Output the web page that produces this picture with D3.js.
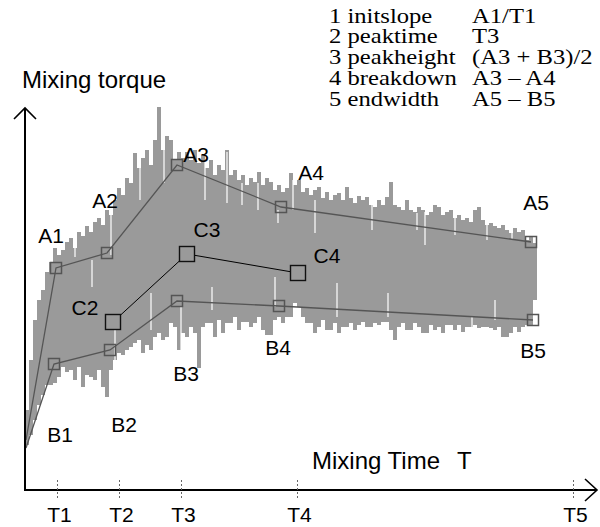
<!DOCTYPE html>
<html>
<head>
<meta charset="utf-8">
<script src="https://cdn.jsdelivr.net/npm/d3@7"></script>
<style>
  body { margin: 0; background: #fff; }
  svg { display: block; }
  .sans { font-family: "Liberation Sans", Arial, Helvetica, sans-serif; fill: #000; }
  .serif { font-family: "Liberation Serif", "Times New Roman", serif; fill: #000; }
</style>
</head>
<body>
<div id="chart"></div>
<script>
// ------------ data (time and torque in chart units)
var sampleTimes = d3.range(2, 511, 4); // one sample every 4 time units

var torqueHigh = [
  80,130,170,190,200,218,228,242,235,240,248,252,242,258,254,264,
  258,268,272,265,280,275,290,302,295,312,307,337,322,332,340,325,
  350,383,340,354,350,330,338,332,338,330,340,327,335,322,330,315,
  325,320,340,315,320,310,315,305,312,308,318,305,312,308,300,305,
  298,302,317,305,310,298,302,295,300,303,292,298,290,295,297,290,
  303,292,287,294,290,293,285,283,290,285,293,308,285,283,280,290,
  280,278,283,280,275,278,285,283,275,278,280,272,275,270,272,268,
  280,283,270,265,267,264,262,265,260,257,262,258,260,250,253,247
];
var torqueLow = [
  45,55,70,85,95,105,105,107,113,123,118,120,110,123,103,115,
  113,110,120,103,93,120,130,137,135,140,143,147,150,137,145,140,
  153,157,150,153,167,163,140,157,153,163,157,122,163,167,167,153,
  170,157,167,167,173,160,168,168,163,167,173,160,155,155,170,173,
  167,173,173,187,183,173,167,167,157,163,170,160,160,167,157,163,
  163,167,160,165,168,163,163,167,165,168,168,160,150,163,167,160,
  160,167,163,157,157,165,160,163,157,165,165,160,165,158,163,163,
  165,162,163,163,162,160,163,153,153,157,163,158,163,165,165,190
];
// short drops of the signal: [time, torque from, torque to]
var dropouts = [
  [50,233,257],[86,235,275],[115,290,335],[139,307,348],[180,290,330],
  [202,287,338],[217,285,307],[233,280,307],[253,267,280],[268,280,310],
  [290,257,290],[347,260,285],[392,260,277],[400,245,278],[430,255,272],
  [462,250,265],[487,250,260],
  [67,203,230],[90,130,163],[126,160,197],[156,140,183],[187,180,203],
  [250,183,213],[312,173,207],[363,173,197],[447,163,173],[470,170,190]
];

// upper envelope A, lower envelope B, centre line C
var upperNames = ["", "A1", "A2", "A3", "A4", "A5"];
var upperTimes = [1, 31, 82, 152, 256, 506];
var upperTorque = [50, 222, 237, 325, 283, 248];
var lowerNames = ["", "B1", "B2", "B3", "B4", "B5"];
var lowerTimes = [1, 29, 85, 152, 254, 508];
var lowerTorque = [42, 126, 140, 189, 184, 170];
var midNames = ["C2", "C3", "C4"];
var midTimes = [88, 162, 273];
var midTorque = [168, 236, 217];

var tickNames = ["T1", "T2", "T3", "T4", "T5"];
var tickTimes = [32, 94, 156, 272, 548];

var legendNames = ["1 initslope", "2 peaktime", "3 peakheight", "4 breakdown", "5 endwidth"];
var legendFormulas = ["A1/T1", "T3", "(A3 + B3)/2", "A3 \u2013 A4", "A5 \u2013 B5"];

// ------------ layout (pixels)
var svgWidth = 600, svgHeight = 527;
var originX = 25, originY = 490;
// label offset from its marker: [dx, dy to baseline]
var labelOffset = {
  A1: [-5, -25], A2: [-2, -45], A3: [19, -3], A4: [30, -27], A5: [5, -32],
  B1: [6, 78], B2: [14, 82], B3: [9, 80], B4: [-1, 49], B5: [0, 38],
  C2: [-28, -7], C3: [20, -17], C4: [29, -10]
};

var svg = d3.select("#chart")
  .append("svg")
  .attr("width", svgWidth)
  .attr("height", svgHeight);

var x = d3.scaleLinear().domain([0, 572]).range([originX, 597]);
var y = d3.scaleLinear().domain([0, 383]).range([originY, 107]);

// ------------ the noisy torque signal, drawn as thin columns
var signal = sampleTimes.map(function(t, i) {
  return {t: t, hi: torqueHigh[i], lo: torqueLow[i]};
});
svg.append("g")
  .selectAll("rect")
  .data(signal)
  .enter()
  .append("rect")
  .attr("x", d => x(d.t - 2))
  .attr("width", x(4) - x(0))
  .attr("y", d => y(d.hi))
  .attr("height", d => y(d.lo) - y(d.hi))
  .attr("fill", "#9a9a9a")
  .attr("shape-rendering", "crispEdges");

svg.append("g")
  .selectAll("line")
  .data(dropouts)
  .enter()
  .append("line")
  .attr("x1", d => x(d[0])).attr("x2", d => x(d[0]))
  .attr("y1", d => y(d[1])).attr("y2", d => y(d[2]))
  .attr("stroke", "#fff")
  .attr("stroke-width", 1.2);

// ------------ envelopes
function toPoints(names, times, torque) {
  return times.map(function(t, i) { return {name: names[i], t: t, q: torque[i]}; });
}
var upper = toPoints(upperNames, upperTimes, upperTorque);
var lower = toPoints(lowerNames, lowerTimes, lowerTorque);
var mid = toPoints(midNames, midTimes, midTorque);

var line = d3.line().x(d => x(d.t)).y(d => y(d.q));

[upper, lower].forEach(function(pts) {
  svg.append("path")
    .attr("d", line(pts))
    .attr("fill", "none")
    .attr("stroke", "#555")
    .attr("stroke-width", 1.3);
  svg.append("g")
    .selectAll("rect")
    .data(pts.filter(d => d.name))
    .enter()
    .append("rect")
    .attr("x", d => x(d.t) - 5.5)
    .attr("y", d => y(d.q) - 5.5)
    .attr("width", 11).attr("height", 11)
    .attr("fill", "none")
    .attr("stroke", "#555")
    .attr("stroke-width", 1.5);
});

svg.append("path")
  .attr("d", line(mid))
  .attr("fill", "none")
  .attr("stroke", "#000")
  .attr("stroke-width", 1);
svg.append("g")
  .selectAll("rect")
  .data(mid)
  .enter()
  .append("rect")
  .attr("x", d => x(d.t) - 7.5)
  .attr("y", d => y(d.q) - 7.5)
  .attr("width", 15).attr("height", 15)
  .attr("fill", "#9a9a9a")
  .attr("stroke", "#111")
  .attr("stroke-width", 1.4);

// point labels
var allPoints = upper.concat(lower, mid).filter(d => d.name);
svg.append("g")
  .selectAll("text")
  .data(allPoints)
  .enter()
  .append("text")
  .attr("class", "sans")
  .attr("font-size", 21)
  .attr("text-anchor", "middle")
  .attr("x", d => x(d.t) + labelOffset[d.name][0])
  .attr("y", d => y(d.q) + labelOffset[d.name][1])
  .text(d => d.name);

// ------------ axes with arrows
svg.append("line")
  .attr("x1", originX).attr("y1", originY)
  .attr("x2", originX).attr("y2", 108)
  .attr("stroke", "#000").attr("stroke-width", 2);
svg.append("line")
  .attr("x1", originX - 1).attr("y1", originY)
  .attr("x2", 596).attr("y2", originY)
  .attr("stroke", "#000").attr("stroke-width", 2);
svg.append("path")
  .attr("d", "M14,119L25,108L36,119")
  .attr("fill", "none").attr("stroke", "#000").attr("stroke-width", 1.6);
svg.append("path")
  .attr("d", "M585,479L597,490L585,501")
  .attr("fill", "none").attr("stroke", "#000").attr("stroke-width", 1.6);

var xAxis = svg.append("g")
  .attr("transform", `translate(0, ${originY})`)
  .call(d3.axisBottom(x).tickValues(tickTimes).tickFormat((d, i) => tickNames[i]).tickSize(10));
xAxis.select(".domain").remove();
xAxis.selectAll(".tick line")
  .attr("y1", -10).attr("y2", 10)
  .attr("stroke", "#666")
  .attr("stroke-dasharray", "2,2");
xAxis.selectAll(".tick text")
  .attr("class", "sans")
  .attr("font-size", 21)
  .attr("font-family", null)
  .attr("fill", "#000")
  .attr("dx", 2)
  .attr("y", 17);

// axis titles
svg.append("text")
  .attr("class", "sans")
  .attr("font-size", 24)
  .attr("x", 22).attr("y", 88)
  .text("Mixing torque");
svg.append("text")
  .attr("class", "sans")
  .attr("font-size", 24)
  .attr("x", 312).attr("y", 469)
  .text("Mixing Time");
svg.append("text")
  .attr("class", "sans")
  .attr("font-size", 24)
  .attr("x", 457).attr("y", 469)
  .text("T");

// ------------ legend of derived quantities
var legend = svg.append("g");
legendNames.forEach(function(name, i) {
  var baseY = 22.5 + i * 20.8;
  legend.append("text")
    .attr("class", "serif")
    .attr("font-size", 22)
    .attr("transform", `translate(329, ${baseY}) scale(1.12, 1)`)
    .text(name);
  legend.append("text")
    .attr("class", "serif")
    .attr("font-size", 22)
    .attr("transform", `translate(472, ${baseY}) scale(1.12, 1)`)
    .text(legendFormulas[i]);
});
</script>
</body>
</html>
